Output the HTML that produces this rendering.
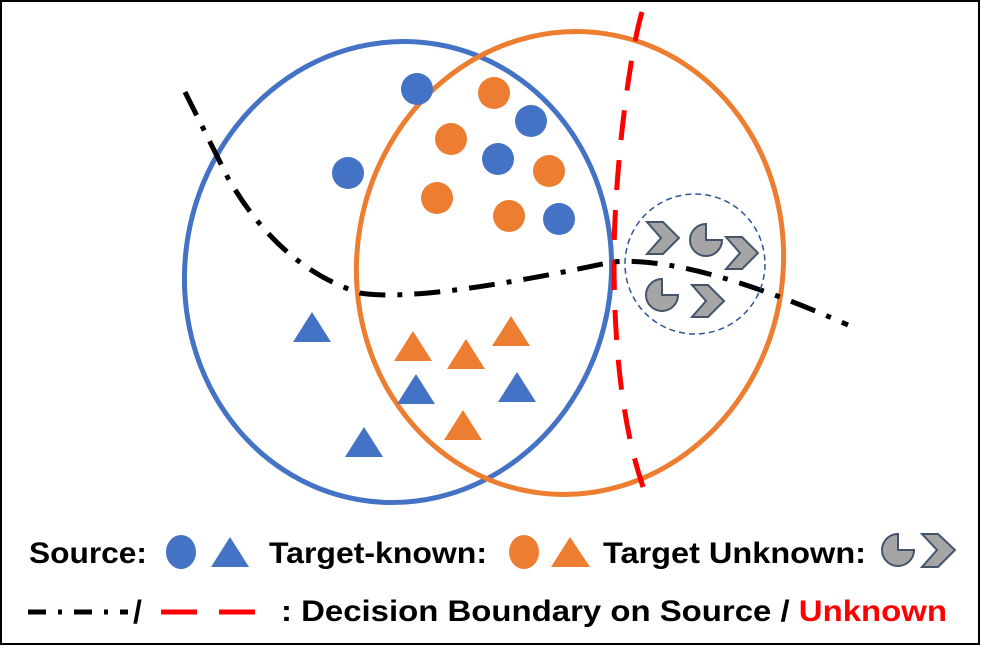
<!DOCTYPE html>
<html><head><style>
html,body{margin:0;padding:0;background:#fff;}
svg{display:block;}
text{font-family:"Liberation Sans",Arial,sans-serif;font-weight:bold;}
</style></head><body>
<svg width="981" height="662" viewBox="0 0 981 662" xmlns="http://www.w3.org/2000/svg">
<rect x="1" y="1" width="978" height="643" fill="#fff" stroke="#000" stroke-width="2"/>
<defs>
<path id="chev" d="M0,0 L16,0 L32,16 L16,32 L0,32 L14,16 Z" fill="#a5a5a5" stroke="#44546a" stroke-width="2" stroke-linejoin="miter"/>
<path id="pac" d="M0,0 L16,0 A16,16 0 1 1 0,-16 Z" fill="#a5a5a5" stroke="#44546a" stroke-width="2"/>
<path id="tri" d="M0,0 L19,30 L-19,30 Z"/>
</defs>
<ellipse cx="398" cy="272" rx="213" ry="231" transform="rotate(10 398 272)" fill="none" stroke="#4472c4" stroke-width="5"/>
<ellipse cx="570" cy="263" rx="213" ry="232" transform="rotate(10 570 263)" fill="none" stroke="#ed7d31" stroke-width="5"/>
<g fill="#4472c4">
<circle cx="417" cy="89" r="16"/><circle cx="531" cy="121" r="16"/><circle cx="498" cy="159" r="16"/><circle cx="559" cy="219" r="16"/><circle cx="348" cy="173" r="16"/>
<use href="#tri" x="312" y="312"/><use href="#tri" x="416" y="374"/><use href="#tri" x="517" y="372"/><use href="#tri" x="364" y="427"/>
</g>
<g fill="#ed7d31">
<circle cx="494" cy="93" r="16"/><circle cx="451" cy="139" r="16"/><circle cx="549" cy="171" r="16"/><circle cx="437" cy="198" r="16"/><circle cx="509" cy="216" r="16"/>
<use href="#tri" x="413" y="331"/><use href="#tri" x="466" y="339"/><use href="#tri" x="511" y="316"/><use href="#tri" x="463" y="410"/>
</g>
<path d="M642,12 C628,60 614,180 614,260 C614,360 625,440 647,498" fill="none" stroke="#ff0000" stroke-width="5" stroke-dasharray="30 20"/>
<path d="M185,92 L228,178 Q280,268 360,293 Q420,303 612,262 Q690,255 848,325" fill="none" stroke="#000" stroke-width="5" stroke-dasharray="26 12 5 12"/>
<circle cx="695" cy="264" r="70" fill="none" stroke="#2f5597" stroke-width="1.5" stroke-dasharray="6 4"/>
<use href="#chev" x="647" y="222"/><use href="#pac" x="706" y="240"/><use href="#chev" x="726" y="237"/>
<use href="#pac" x="662" y="295"/><use href="#chev" x="692" y="285"/>
<text x="29" y="563" font-size="30" textLength="118" lengthAdjust="spacingAndGlyphs">Source:</text>
<ellipse cx="181" cy="552" rx="15" ry="17" fill="#4472c4"/>
<path d="M230,537 L249,567 L211,567 Z" fill="#4472c4"/>
<text x="269" y="563" font-size="30" textLength="218" lengthAdjust="spacingAndGlyphs">Target-known:</text>
<ellipse cx="524" cy="552" rx="15" ry="17" fill="#ed7d31"/>
<path d="M570,537 L590,567 L551,567 Z" fill="#ed7d31"/>
<text x="603" y="563" font-size="30" textLength="263" lengthAdjust="spacingAndGlyphs">Target Unknown:</text>
<path d="M898,534 A16,16 0 1 0 914,550 L898,550 Z" fill="#a5a5a5" stroke="#44546a" stroke-width="2"/>
<path d="M922,534 L938,534 L955,550 L938,567 L922,567 L937,550 Z" fill="#a5a5a5" stroke="#44546a" stroke-width="2"/>
<path d="M28,612 L128,612" stroke="#000" stroke-width="5" stroke-dasharray="18 12 4 12"/>
<text x="133" y="623" font-size="32">/</text>
<path d="M161,612 L256,612" stroke="#ff0000" stroke-width="5" stroke-dasharray="36 22"/>
<text x="281" y="621" font-size="30" textLength="666" lengthAdjust="spacingAndGlyphs">: Decision Boundary on Source / <tspan fill="#ff0000">Unknown</tspan></text>
</svg>
</body></html>
